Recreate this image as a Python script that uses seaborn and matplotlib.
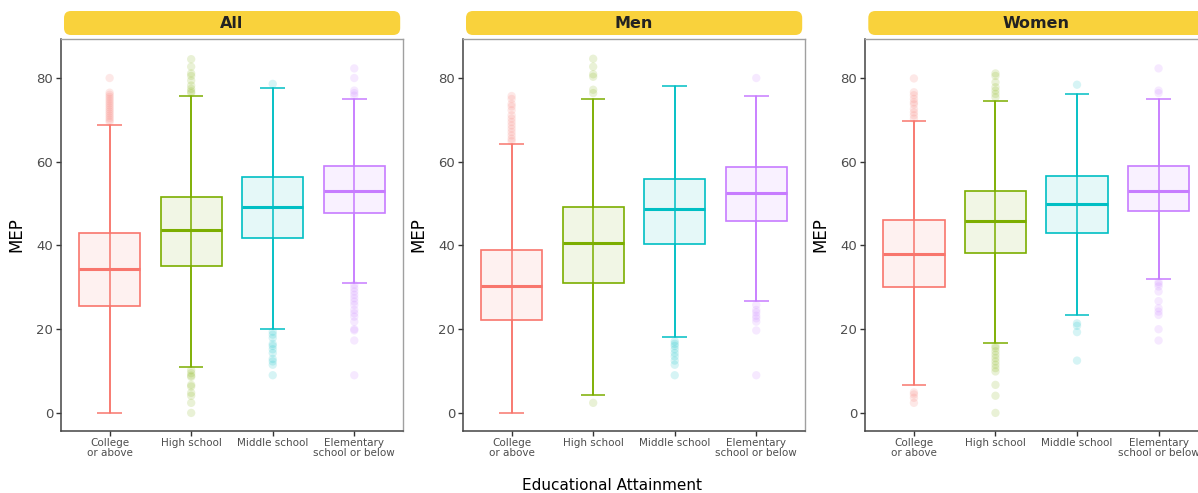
import seaborn as sns
import pandas as pd
import matplotlib.pyplot as plt
from matplotlib.patches import FancyBboxPatch
from matplotlib.transforms import IdentityTransform

# categories / colours
edu = ["College\nor above", "High school", "Middle school", "Elementary\nschool or below"]
colors = ["#F8766D", "#7CAE00", "#00BFC4", "#C77CFF"]
panels = ["All", "Men", "Women"]

# box statistics
all_lo = [0, 11, 20, 31.1]
all_q1 = [25.6, 35.2, 41.9, 47.7]
all_med = [34.3, 43.8, 49.2, 53.0]
all_q3 = [42.9, 51.5, 56.3, 59.1]
all_hi = [68.7, 75.65, 77.5, 75.0]

men_lo = [0, 4.2, 18.2, 26.7]
men_q1 = [22.2, 31.0, 40.3, 45.9]
men_med = [30.4, 40.5, 48.7, 52.6]
men_q3 = [39.0, 49.2, 55.9, 58.8]
men_hi = [64.3, 74.9, 78.1, 75.65]

women_lo = [6.6, 16.7, 23.4, 32.0]
women_q1 = [30.0, 38.3, 43.0, 48.3]
women_med = [37.9, 45.9, 49.8, 53.0]
women_q3 = [46.0, 52.9, 56.7, 59.1]
women_hi = [69.7, 74.4, 76.2, 75.0]

# outliers
all_out = [
    [69.5, 70, 70.5, 71, 71.5, 72, 72.5, 73, 73.5, 74, 74.5, 75, 75.5, 76, 76.5, 80],
    [76.4, 76.8, 77.4, 78.2, 79.4, 80.5, 81.1, 82.7, 84.5,
     10.2, 9.5, 8.9, 8.6, 6.7, 6.3, 4.8, 4.1, 2.4, 0],
    [78.6, 19.4, 18.7, 17.9, 16.5, 16, 15.2, 14.3, 12.9, 12.3, 11.5, 9],
    [75.8, 76.4, 77, 80, 82.3, 30.6, 29.8, 29, 28.2, 27.4, 26.6, 25.8,
     24.6, 23.8, 23, 21.8, 20, 19.7, 17.3, 9],
]
men_out = [
    [64.9, 65.5, 66.3, 67.1, 67.9, 68.7, 69.5, 70.3, 71.1, 72.3, 73.2, 73.8, 75, 75.7],
    [76.4, 77.2, 80.3, 80.9, 82.7, 84.6, 2.4],
    [17.1, 16.5, 16, 15.2, 14.3, 13.5, 12.5, 11.5, 9],
    [80, 25.8, 24.6, 24, 23.2, 22.6, 21.8, 19.7, 9],
]
women_out = [
    [70.3, 71.1, 71.8, 72.6, 73.7, 74.2, 75, 75.9, 76.6, 79.9, 4.9, 4.4, 3.6, 2.4],
    [75.4, 76.2, 77, 77.8, 79, 80.5, 81.1, 16, 15.5, 14.7, 13.9, 13.1,
     12.3, 11.5, 10.7, 9.9, 6.7, 4.1, 0],
    [78.4, 21.4, 20.8, 19.3, 12.5],
    [76.4, 77, 82.3, 31.3, 30.8, 30.2, 29, 26.7, 25, 24.2, 23.4, 20, 17.3],
]

stats = {
    "All": (all_lo, all_q1, all_med, all_q3, all_hi, all_out),
    "Men": (men_lo, men_q1, men_med, men_q3, men_hi, men_out),
    "Women": (women_lo, women_q1, women_med, women_q3, women_hi, women_out),
}

sns.set_theme(style="white")
plt.rcParams['font.family'] = ['DejaVu Sans']

fig = plt.figure(figsize=(11.98, 4.93), dpi=100)
lefts = [60.7, 462.7, 865]
W, H = 1198, 493
ax_w = 342.5

for name, left in zip(panels, lefts):
    ax = fig.add_axes([left / W, 1 - 430.7 / H, ax_w / W, (430.7 - 39.3) / H])
    lo, q1, med, q3, hi, out = stats[name]

    # outlier points
    rows = [(edu[i], v) for i in range(4) for v in out[i]]
    df = pd.DataFrame(rows, columns=["edu", "mep"])
    sns.stripplot(data=df, x="edu", y="mep", hue="edu", order=edu, hue_order=edu,
                  palette=colors, jitter=False, alpha=0.16, size=6, linewidth=0,
                  legend=False, ax=ax, zorder=1)

    for i in range(4):
        c = colors[i]
        # whisker line runs through the box
        ax.vlines(i, lo[i], hi[i], colors=c, lw=1.1, zorder=2)
        ax.hlines([lo[i], hi[i]], i - 0.15, i + 0.15, colors=c, lw=1.1, zorder=2)
        bs = [{"whislo": lo[i], "q1": q1[i], "med": med[i], "q3": q3[i],
               "whishi": hi[i], "fliers": []}]
        ax.bxp(bs, positions=[i], widths=0.75, patch_artist=True, showcaps=False,
               boxprops=dict(facecolor=c + "1A", edgecolor=c, lw=1.2),
               whiskerprops=dict(color=c, lw=1.1),
               medianprops=dict(color=c, lw=2.2), zorder=3)

    ax.set_xlim(-0.6, 3.6)
    ax.set_ylim(-4.25, 89.25)
    ax.set_xticks(range(4))
    ax.set_xticklabels(edu, fontsize=7.5, color="#4D4D4D", linespacing=1.0)
    ax.set_yticks([0, 20, 40, 60, 80])
    ax.set_yticklabels(["0", "20", "40", "60", "80"], fontsize=9.5, color="#4D4D4D")
    ax.tick_params(axis="both", length=3.5, width=1, color="#333333", pad=2,
                   bottom=True, left=True)
    ax.set_xlabel("")
    ax.set_ylabel("MEP", fontsize=12, color="black", labelpad=8)
    for side in ["top", "right"]:
        ax.spines[side].set_color("#A0A0A0")
        ax.spines[side].set_linewidth(1.0)
    for side in ["left", "bottom"]:
        ax.spines[side].set_color("#444444")
        ax.spines[side].set_linewidth(1.1)

    # rounded yellow strip header
    sx0 = left + 3.3
    sx1 = left + ax_w - 3
    strip = FancyBboxPatch((sx0, H - 35), sx1 - sx0, 24,
                           boxstyle="round,pad=0,rounding_size=7",
                           transform=IdentityTransform(), facecolor="#F9D23C",
                           edgecolor="none", figure=fig)
    fig.patches.append(strip)
    fig.text((sx0 + sx1) / 2 / W, 1 - 23 / H, name, ha="center", va="center",
             fontsize=11.5, fontweight="bold", color="#222222")

fig.text(612 / W, 1 - 485 / H, "Educational Attainment", ha="center", va="center",
         fontsize=11, color="black")

fig.savefig("out.png", dpi=100, facecolor="white")
